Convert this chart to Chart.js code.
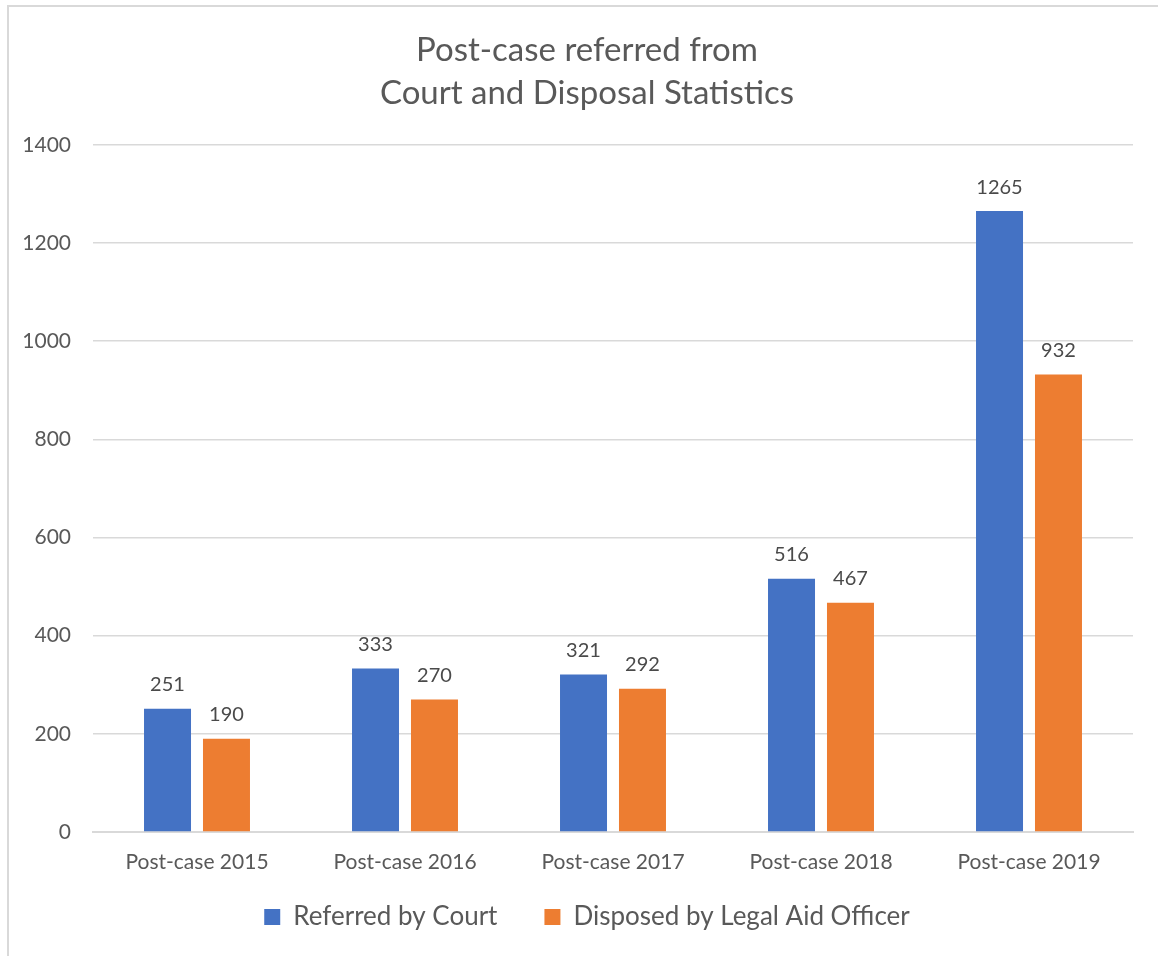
<!DOCTYPE html>
<html>
<head>
<meta charset="utf-8">
<script src="https://cdn.jsdelivr.net/npm/chart.js@4"></script>
<style>
  body { margin: 0; background: #fff; }
  #frame {
    position: absolute; left: 7px; top: 5px;
    width: 1151px; height: 951px;
    border-left: 2px solid #d9d9d9; border-top: 2px solid #d9d9d9;
  }
  canvas { position: absolute; left: 0; top: 0; }
</style>
</head>
<body>
<div id="frame"><canvas id="chart" width="1149" height="949"></canvas></div>
<script>
const categories = ['Post-case 2015', 'Post-case 2016', 'Post-case 2017', 'Post-case 2018', 'Post-case 2019'];
const referredByCourt = [251, 333, 321, 516, 1265];
const disposedByOfficer = [190, 270, 292, 467, 932];

const fontFamily = 'Lato, "Open Sans", sans-serif';
const textColor = '#595959';

// draws the value over each bar
const barLabels = {
    id: 'barLabels',
    afterDatasetsDraw(chart) {
        const ctx = chart.ctx;
        ctx.save();
        ctx.font = '20px ' + fontFamily;
        ctx.fillStyle = '#4a4a4a';
        ctx.textAlign = 'center';
        ctx.textBaseline = 'middle';
        chart.data.datasets.forEach((ds, i) => {
            chart.getDatasetMeta(i).data.forEach((bar, j) => {
                ctx.fillText(ds.data[j], bar.x, bar.y - 24);
            });
        });
        ctx.restore();
    }
};

// axes are squeezed by the fixed sizes below, so widen their label clip boxes
const roomForTicks = {
    id: 'roomForTicks',
    afterLayout(chart) {
        chart.scales.y.left = 0;
        chart.scales.x.bottom = chart.scales.x.top + 60;
    }
};

const ctx = document.getElementById('chart').getContext('2d');
new Chart(ctx, {
    type: 'bar',
    data: {
        labels: categories,
        datasets: [{
            label: 'Referred by Court',
            data: referredByCourt,
            backgroundColor: '#4472c4',
            categoryPercentage: 0.567,
            barPercentage: 0.797
        }, {
            label: 'Disposed by Legal Aid Officer',
            data: disposedByOfficer,
            backgroundColor: '#ed7d31',
            categoryPercentage: 0.567,
            barPercentage: 0.797
        }]
    },
    options: {
        responsive: false,
        animation: false,
        layout: { padding: { left: 32, right: 25, top: 22, bottom: 16 } },
        plugins: {
            title: {
                display: true,
                text: ['Post-case referred from', 'Court and Disposal Statistics'],
                color: textColor,
                font: { family: fontFamily, size: 33, weight: 'normal', lineHeight: 1.3 },
                padding: { top: 0, bottom: 30 }
            },
            legend: {
                position: 'bottom',
                labels: {
                    color: textColor,
                    font: { family: fontFamily, size: 26 },
                    boxWidth: 16,
                    boxHeight: 16,
                    padding: 47
                }
            },
            tooltip: { enabled: false }
        },
        scales: {
            x: {
                grid: { display: false, drawTicks: false },
                border: { color: '#d9d9d9', width: 2 },
                ticks: { color: textColor, font: { family: fontFamily, size: 21 }, padding: 18 },
                afterFit(scale) { scale.height = 25; }
            },
            y: {
                min: 0,
                max: 1400,
                ticks: {
                    stepSize: 200,
                    color: textColor,
                    font: { family: fontFamily, size: 21 },
                    padding: 22,
                    callback: v => String(v)
                },
                grid: { color: '#d9d9d9', lineWidth: 1.5, drawTicks: false },
                border: { display: false },
                afterFit(scale) { scale.width = 52; }
            }
        }
    },
    plugins: [barLabels, roomForTicks]
});
</script>
</body>
</html>
